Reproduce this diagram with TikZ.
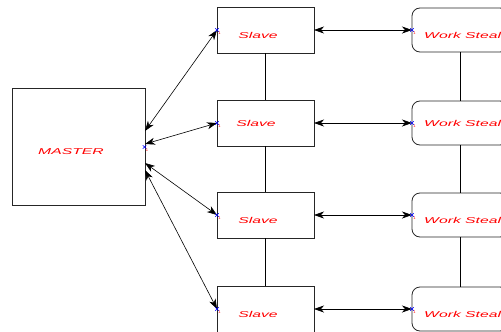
\documentclass[tikz,border=0pt]{standalone}
\usepackage{fontspec}
\setmainfont{Liberation Sans}
\usetikzlibrary{arrows.meta,calc}
\begin{document}
\begin{tikzpicture}[x=1pt,y=-1pt,
  box/.style={draw=black!85,line width=0.8pt,inner sep=0pt,minimum width=97pt,minimum height=46pt},
  wsbox/.style={box,rounded corners=8pt,minimum width=96pt,minimum height=44pt},
  lbl/.style={text=red,font=\fontsize{8.5}{10}\selectfont\itshape,inner sep=0pt},
  conn/.style={line width=0.6pt,black},
  bi/.style={conn,{Stealth[length=10pt,width=7pt,inset=3pt]}-{Stealth[length=10pt,width=7pt,inset=3pt]}},
  portx/.style={blue,line width=0.5pt},
  portl/.style={text=red,font=\fontsize{4}{4}\selectfont,inner sep=0pt}]
\useasboundingbox (0,0) rectangle (501,332);
\clip (0,0) rectangle (501,332);
% master
\node[draw=black!85,line width=0.8pt,minimum width=133pt,minimum height=117pt,inner sep=0pt] (master) at (78.5,146.5) {};
\node[lbl] (mastert) at (71,152) {\scalebox{1.85}[1]{MASTER}};
% slaves
\foreach \i/\y/\ty/\tx in {1/30/35/258,2/123/123/256,3/215/220/258,4/309/314/258}{
  \node[box] (s\i) at (265.5,\y) {};
  \node[lbl] (st\i) at (\tx,\ty) {\scalebox{1.85}[1]{Slave}};
  \node[wsbox] (w\i) at (460,\y) {};
  \node[lbl,anchor=west] (wt\i) at (424,\ty) {\scalebox{1.85}[1]{Work Steal}};
  \coordinate (sp\i) at (217,\y);
  \coordinate (wp\i) at (412,\y);
  \coordinate (se\i) at (314,\y);
}
\coordinate (mp) at (144.5,147);
\coordinate (m1) at (145,131);
\coordinate (m2) at (145,144);
\coordinate (m3) at (145,163);
\coordinate (m4) at (145,170);
% vertical links
\foreach \a/\b in {1/2,2/3,3/4}{
  \draw[conn] (s\a.south) -- (s\b.north);
  \draw[conn] (w\a.south) -- (w\b.north);
}
% master to slaves, slaves to work stealers
\foreach \i in {1,2,3,4}{
  \draw[bi] (m\i) -- (sp\i);
  \draw[bi] (se\i) -- (wp\i);
}
% port markers
\foreach \p in {mp,sp1,sp2,sp3,sp4,wp1,wp2,wp3,wp4}{
  \draw[portx] ($(\p)+(-1.8,-1.8)$) -- ($(\p)+(1.8,1.8)$) ($(\p)+(-1.8,1.8)$) -- ($(\p)+(1.8,-1.8)$);
  \node[portl] at ($(\p)+(2.5,3.5)$) {1};
}
\end{tikzpicture}
\end{document}
